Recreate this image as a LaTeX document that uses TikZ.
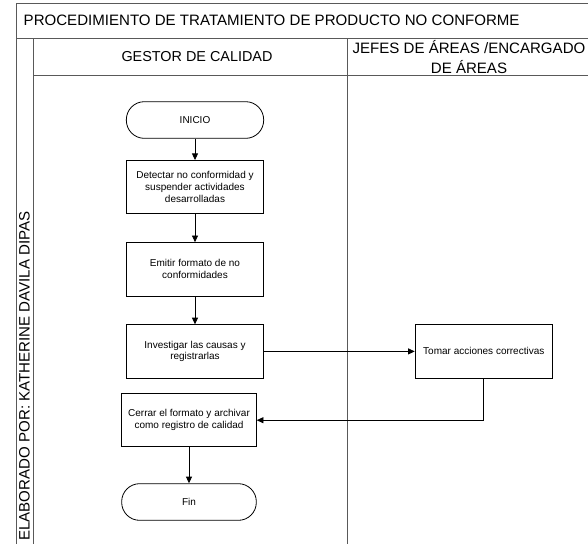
\documentclass[tikz,border=0pt]{standalone}
\usepackage{fontspec}
\setmainfont{Liberation Sans}
\usetikzlibrary{
  arrows.meta,
  positioning
}
\definecolor{frame gray}{gray}{0.35}
\tikzset{
%
  % For the lines of the chart frame.
  frame/.style={
    line width=0.7pt,
    draw=frame gray},
%
  % For flow lines.
  line/.style={
    line width=0.6pt},
%
  % For flow lines with an arrow.
  flow/.style={
    line,
    -{Triangle[length=5pt,
               width=4.5pt]}},
%
  % For process boxes.
  box/.style={
    line,
    draw,
    align=center,
    minimum width=103pt,
    minimum height=40pt,
    font=\fontsize{7.5}{8.9}\selectfont},
%
  % For start and end.
  terminal/.style={
    box,
    rounded corners=13.5pt,
    minimum height=27.5pt},
%
  % For the headings.
  heading/.style={
    align=center,
    font=\fontsize{11.3}{15.5}\selectfont}
}

\begin{document}
\begin{tikzpicture}[x=0.75pt,y=-0.75pt]
  \useasboundingbox (0,0) rectangle (588,543);

  % frame and lanes
  \draw[frame] (16,546) -- (16,3) -- (592,3);
  \draw[frame] (16,38) -- (592,38);
  \draw[frame] (33,546) -- (33,38);
  \draw[frame] (33,75) -- (592,75);
  \draw[frame] (347,546) -- (347,38);

  \node[heading, anchor=west] (title) at (19,20)
    {PROCEDIMIENTO DE TRATAMIENTO DE PRODUCTO NO CONFORME};
  \node[heading, font=\fontsize{10.8}{15}\selectfont] (gestor) at (197,57)
    {GESTOR DE CALIDAD};
  \node[heading] (jefes) at (469,57)
    {JEFES DE ÁREAS /ENCARGADO\\DE ÁREAS};
  \node[heading, rotate=90] (autor) at (24.5,376)
    {ELABORADO POR: KATHERINE DAVILA DIPAS};

  % flow
  \node[terminal] (S) at (195,120) {INICIO};
  \node[box] (D) [below=16pt of S]
    {Detectar no conformidad y\\suspender actividades\\desarrolladas};
  \node[box] (E) [below=21pt of D]
    {Emitir formato de no\\conformidades};
  \node[box] (V) [below=21pt of E]
    {Investigar las causas y\\registrarlas};
  \node[box] (T) [right=113pt of V] {Tomar acciones correctivas};
  \node[box, minimum width=101pt] (C) [below=11pt of V, xshift=-4.5pt]
    {Cerrar el formato y archivar\\como registro de calidad};
  \node[terminal, minimum width=101pt] (F) [below=27pt of C] {Fin};

  \draw[flow] (S) -- (D);
  \draw[flow] (D) -- (E);
  \draw[flow] (E) -- (V);
  \draw[flow] (V) -- (T);
  \draw[flow] (T.south) |- (C.east);
  \draw[flow] (C) -- (F);
\end{tikzpicture}
\end{document}
